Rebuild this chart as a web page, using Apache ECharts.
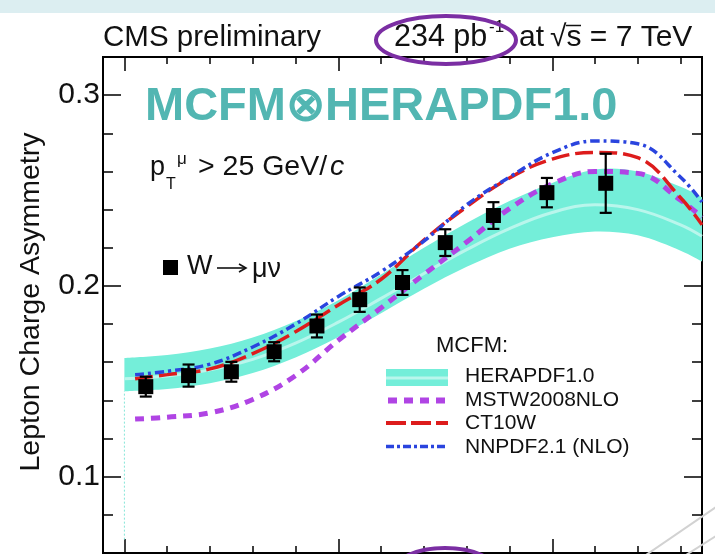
<!DOCTYPE html>
<html>
<head>
<meta charset="utf-8">
<script src="https://cdn.jsdelivr.net/npm/echarts@6/dist/echarts.min.js"></script>
<style>
  html, body { margin: 0; padding: 0; background: #ffffff; }
  #chart { width: 715px; height: 554px; }
</style>
</head>
<body>
<div id="chart"></div>
<script>
// W -> mu nu lepton charge asymmetry versus muon |eta|, data and MCFM predictions

// measured asymmetry per |eta| bin (bin centres) with total uncertainty
const etaBins  = [0.1, 0.3, 0.5, 0.7, 0.9, 1.1, 1.3, 1.5, 1.725, 1.975, 2.25];
const asymData = [0.1472, 0.1530, 0.1550, 0.1655, 0.1790, 0.1928, 0.2018, 0.2227, 0.2369, 0.2489, 0.2538];
const asymErr  = [0.0052, 0.0058, 0.0052, 0.0050, 0.0060, 0.0064, 0.0065, 0.0070, 0.0070, 0.0077, 0.0155];

// MCFM x HERAPDF1.0 prediction: central value and uncertainty band
const bandEta     = [0, 0.2, 0.4, 0.6, 0.8, 1.0, 1.2, 1.4, 1.6, 1.8, 2.0, 2.2, 2.4, 2.6, 2.7];
const heraLow     = [0.1448, 0.1460, 0.1490, 0.1543, 0.1625, 0.1732, 0.1857, 0.1985, 0.2100, 0.2195, 0.2255, 0.2285, 0.2265, 0.2185, 0.2128];
const heraCentral = [0.1514, 0.1528, 0.1560, 0.1615, 0.1700, 0.1810, 0.1935, 0.2065, 0.2190, 0.2300, 0.2385, 0.2425, 0.2400, 0.2320, 0.2260];
const heraHigh    = [0.1622, 0.1638, 0.1672, 0.1730, 0.1815, 0.1925, 0.2060, 0.2200, 0.2330, 0.2445, 0.2540, 0.2610, 0.2600, 0.2520, 0.2465];

// other PDF sets
const theoryEta = [0.05, 0.2, 0.4, 0.6, 0.8, 1.0, 1.2, 1.4, 1.6, 1.8, 2.0, 2.2, 2.4, 2.6, 2.7];
const mstw  = [0.1302, 0.1312, 0.1335, 0.1405, 0.1530, 0.1715, 0.1885, 0.2060, 0.2230, 0.2405, 0.2535, 0.2600, 0.2590, 0.2450, 0.2360];
const ct10w = [0.1513, 0.1535, 0.1565, 0.1645, 0.1760, 0.1900, 0.2035, 0.2240, 0.2415, 0.2566, 0.2665, 0.2700, 0.2672, 0.2462, 0.2320];
const nnpdf = [0.1535, 0.1552, 0.1590, 0.1680, 0.1800, 0.1945, 0.2075, 0.2235, 0.2425, 0.2570, 0.2698, 0.2760, 0.2745, 0.2570, 0.2440];

// axis ticks
const yMajor = [0.1, 0.2, 0.3];
const yMinor = [0.06, 0.08, 0.12, 0.14, 0.16, 0.18, 0.22, 0.24, 0.26, 0.28];
const xMajor = [0, 1, 2];
const xMinor = [0.2, 0.4, 0.6, 0.8, 1.2, 1.4, 1.6, 1.8, 2.2, 2.4, 2.6];

const legendNames = ['HERAPDF1.0', 'MSTW2008NLO', 'CT10W', 'NNPDF2.1 (NLO)'];

const FONT = '"Liberation Sans", Arial, Helvetica, sans-serif';
const C_BAND = '#74EED9';
const C_BAND_MID = '#B9F6EC';
const C_MSTW = '#B044E4';
const C_CT10 = '#DD1C1C';
const C_NNPDF = '#2A44DE';
const C_TITLE = '#52B6B2';

const X_MIN = -0.1, X_MAX = 2.7, Y_MIN = 0.06, Y_MAX = 0.32;

const zip = (xs, ys) => xs.map((x, i) => [x, ys[i]]);

// Catmull-Rom spline through pixel points, as cubic bezier path commands
function splineSegments(pts) {
  let d = '';
  for (let i = 0; i < pts.length - 1; i++) {
    const p0 = pts[i - 1] || pts[i], p1 = pts[i], p2 = pts[i + 1], p3 = pts[i + 2] || pts[i + 1];
    const c1 = [p1[0] + (p2[0] - p0[0]) / 6, p1[1] + (p2[1] - p0[1]) / 6];
    const c2 = [p2[0] - (p3[0] - p1[0]) / 6, p2[1] - (p3[1] - p1[1]) / 6];
    d += ' C' + c1[0] + ',' + c1[1] + ' ' + c2[0] + ',' + c2[1] + ' ' + p2[0] + ',' + p2[1];
  }
  return d;
}

function xAxisDef(position, ticks, len) {
  return {
    type: 'value', min: X_MIN, max: X_MAX, position: position,
    axisLine: { show: true, onZero: false, lineStyle: { color: '#000', width: 2 } },
    axisTick: { show: true, inside: true, length: len, customValues: ticks, lineStyle: { color: '#000', width: 1.5 } },
    axisLabel: { show: false },
    splitLine: { show: false }
  };
}
function yAxisDef(position, ticks, len, labels) {
  return {
    type: 'value', min: Y_MIN, max: Y_MAX, position: position,
    axisLine: { show: true, onZero: false, lineStyle: { color: '#000', width: 2 } },
    axisTick: { show: true, inside: true, length: len, customValues: ticks, lineStyle: { color: '#000', width: 1.5 } },
    axisLabel: labels ? {
      show: true, customValues: yMajor, formatter: v => v.toFixed(1),
      fontSize: 30, fontFamily: FONT, color: '#111', margin: 3
    } : { show: false },
    splitLine: { show: false }
  };
}

const chart = echarts.init(document.getElementById('chart'), null, { renderer: 'canvas' });

const T = (x, y, text, font, extra) => Object.assign({
  type: 'text', x: x, y: y, z: 50,
  style: Object.assign({ text: text, font: font + ' ' + FONT, fill: '#111', textVerticalAlign: 'middle' }, extra || {})
});

const graphics = [
  // slide strip along the top
  { type: 'rect', left: 0, top: 0, z: -10, shape: { width: 715, height: 13 }, style: { fill: '#DCEEF1' } },
  // header texts
  T(103, 38, 'CMS preliminary', '29.5px'),
  T(394, 38, '234 pb', '30.5px'),
  T(489, 27, '-1', '17px'),
  T(519, 38, 'at', '30px'),
  T(550, 38, '\u221As = 7 TeV', '30px'),
  { type: 'line', z: 50, shape: { x1: 566, y1: 25.5, x2: 581, y2: 25.5 }, style: { stroke: '#111', lineWidth: 1.5 } },
  // highlight ellipses
  { type: 'ellipse', z: 60, shape: { cx: 446, cy: 40, rx: 70, ry: 24 }, style: { fill: null, stroke: '#7B2EA3', lineWidth: 4 } },
  { type: 'ellipse', z: 60, shape: { cx: 445, cy: 572, rx: 52, ry: 24 }, style: { fill: null, stroke: '#7B2EA3', lineWidth: 4 } },
  // faint slide decoration lines in the corner
  { type: 'line', z: 55, shape: { x1: 646, y1: 555, x2: 716, y2: 507 }, style: { stroke: '#D2D2D2', lineWidth: 2 } },
  { type: 'line', z: 55, shape: { x1: 686, y1: 555, x2: 716, y2: 536 }, style: { stroke: '#D2D2D2', lineWidth: 2 } },
  // y axis title
  { type: 'text', x: 31, y: 302, z: 50, rotation: Math.PI / 2,
    style: { text: 'Lepton Charge Asymmetry', font: '28.5px ' + FONT, fill: '#111', textAlign: 'center', textVerticalAlign: 'middle' } },
  // plot title
  T(145, 107, 'MCFM\u2297HERAPDF1.0', 'bold 47px', { fill: C_TITLE }),
  // kinematic cut
  T(150, 168, 'p', '27px'),
  T(166, 185, 'T', '16px'),
  T(177, 159, '\u03BC', '17px'),
  T(198, 167, '> 25 GeV/', '28.5px'),
  T(330, 167, 'c', 'italic 28.5px'),
  // data label: marker, W, arrow, mu nu
  { type: 'rect', z: 50, shape: { x: 163, y: 260, width: 15, height: 15 }, style: { fill: '#000' } },
  T(187, 267, 'W', '27px'),
  { type: 'line', z: 50, shape: { x1: 217, y1: 268, x2: 245, y2: 268 }, style: { stroke: '#111', lineWidth: 1.6 } },
  { type: 'polyline', z: 50, shape: { points: [[239, 264], [246, 268], [239, 272]] }, style: { stroke: '#111', lineWidth: 1.6, fill: null } },
  T(252, 270, '\u03BC\u03BD', '27px'),
  // legend
  T(436, 346, 'MCFM:', '22px'),
  { type: 'rect', z: 50, shape: { x: 386, y: 369, width: 62, height: 17 }, style: { fill: C_BAND } },
  { type: 'line', z: 51, shape: { x1: 386, y1: 378, x2: 448, y2: 378 }, style: { stroke: C_BAND_MID, lineWidth: 3 } },
  { type: 'line', z: 50, shape: { x1: 388, y1: 400.5, x2: 448, y2: 400.5 }, style: { stroke: C_MSTW, lineWidth: 6, lineDash: [9, 7] } },
  { type: 'line', z: 50, shape: { x1: 386, y1: 423, x2: 448, y2: 423 }, style: { stroke: C_CT10, lineWidth: 4, lineDash: [20, 5] } },
  { type: 'line', z: 50, shape: { x1: 386, y1: 446.5, x2: 448, y2: 446.5 }, style: { stroke: C_NNPDF, lineWidth: 3.5, lineDash: [8, 3, 3, 3] } },
  T(465, 376, legendNames[0], '21px'),
  T(465, 400, legendNames[1], '21px'),
  T(465, 423, legendNames[2], '21px'),
  T(465, 447, legendNames[3], '21px')
];

const option = {
  backgroundColor: '#ffffff',
  animation: false,
  grid: { left: 103, top: 57, right: 13, bottom: 1, containLabel: false },
  xAxis: [
    xAxisDef('bottom', xMinor, 7),
    xAxisDef('bottom', xMajor, 14),
    xAxisDef('top', xMinor, 7),
    xAxisDef('top', xMajor, 14)
  ],
  yAxis: [
    yAxisDef('left', yMajor, 18, true),
    yAxisDef('left', yMinor, 10, false),
    yAxisDef('right', yMajor, 18, false),
    yAxisDef('right', yMinor, 10, false)
  ],
  graphic: graphics,
  series: [
    {
      // HERAPDF1.0 uncertainty band, drawn as one closed smooth shape
      name: legendNames[0], type: 'custom', z: 1, clip: true, silent: true,
      data: bandEta.map((x, i) => [x, heraLow[i], heraHigh[i]]),
      renderItem: function (params, api) {
        if (params.dataIndex !== 0) return null;
        const up = bandEta.map((x, i) => api.coord([x, heraHigh[i]]));
        const lo = bandEta.map((x, i) => api.coord([x, heraLow[i]])).reverse();
        const d = 'M' + up[0][0] + ',' + up[0][1] + splineSegments(up) +
                  ' L' + lo[0][0] + ',' + lo[0][1] + splineSegments(lo) + ' Z';
        return { type: 'path', shape: { pathData: d }, style: { fill: C_BAND, stroke: null } };
      }
    },
    {
      name: 'heraCentral', type: 'line', data: zip(bandEta, heraCentral),
      smooth: 0.4, symbol: 'none', lineStyle: { color: C_BAND_MID, width: 3 }, z: 2
    },
    {
      name: 'heraEdge', type: 'line', data: [[0, 0.067], [0, heraLow[0]]],
      symbol: 'none', lineStyle: { color: '#86E6D8', width: 1, type: [2, 2] }, z: 2
    },
    {
      name: legendNames[1], type: 'line', data: zip(theoryEta, mstw),
      smooth: 0.4, symbol: 'none', lineStyle: { color: C_MSTW, width: 5, type: [9, 7] }, z: 3
    },
    {
      name: legendNames[2], type: 'line', data: zip(theoryEta, ct10w),
      smooth: 0.4, symbol: 'none', lineStyle: { color: C_CT10, width: 3.5, type: [18, 6] }, z: 3
    },
    {
      name: legendNames[3], type: 'line', data: zip(theoryEta, nnpdf),
      smooth: 0.4, symbol: 'none', lineStyle: { color: C_NNPDF, width: 3.5, type: [9, 4, 3, 4] }, z: 3
    },
    {
      name: 'errors', type: 'custom', z: 4,
      data: etaBins.map((x, i) => [x, asymData[i], asymErr[i]]),
      renderItem: function (params, api) {
        const x = api.value(0), y = api.value(1), e = api.value(2);
        const hi = api.coord([x, y + e]);
        const lo = api.coord([x, y - e]);
        const cap = 6;
        const st = { stroke: '#000', lineWidth: 2.2 };
        return {
          type: 'group',
          children: [
            { type: 'line', shape: { x1: hi[0], y1: hi[1], x2: lo[0], y2: lo[1] }, style: st },
            { type: 'line', shape: { x1: hi[0] - cap, y1: hi[1], x2: hi[0] + cap, y2: hi[1] }, style: st },
            { type: 'line', shape: { x1: lo[0] - cap, y1: lo[1], x2: lo[0] + cap, y2: lo[1] }, style: st }
          ]
        };
      }
    },
    {
      name: 'W -> mu nu', type: 'scatter', z: 5,
      data: zip(etaBins, asymData),
      symbol: 'rect', symbolSize: 15, itemStyle: { color: '#000', opacity: 1 }
    }
  ]
};

chart.setOption(option);
</script>
</body>
</html>
